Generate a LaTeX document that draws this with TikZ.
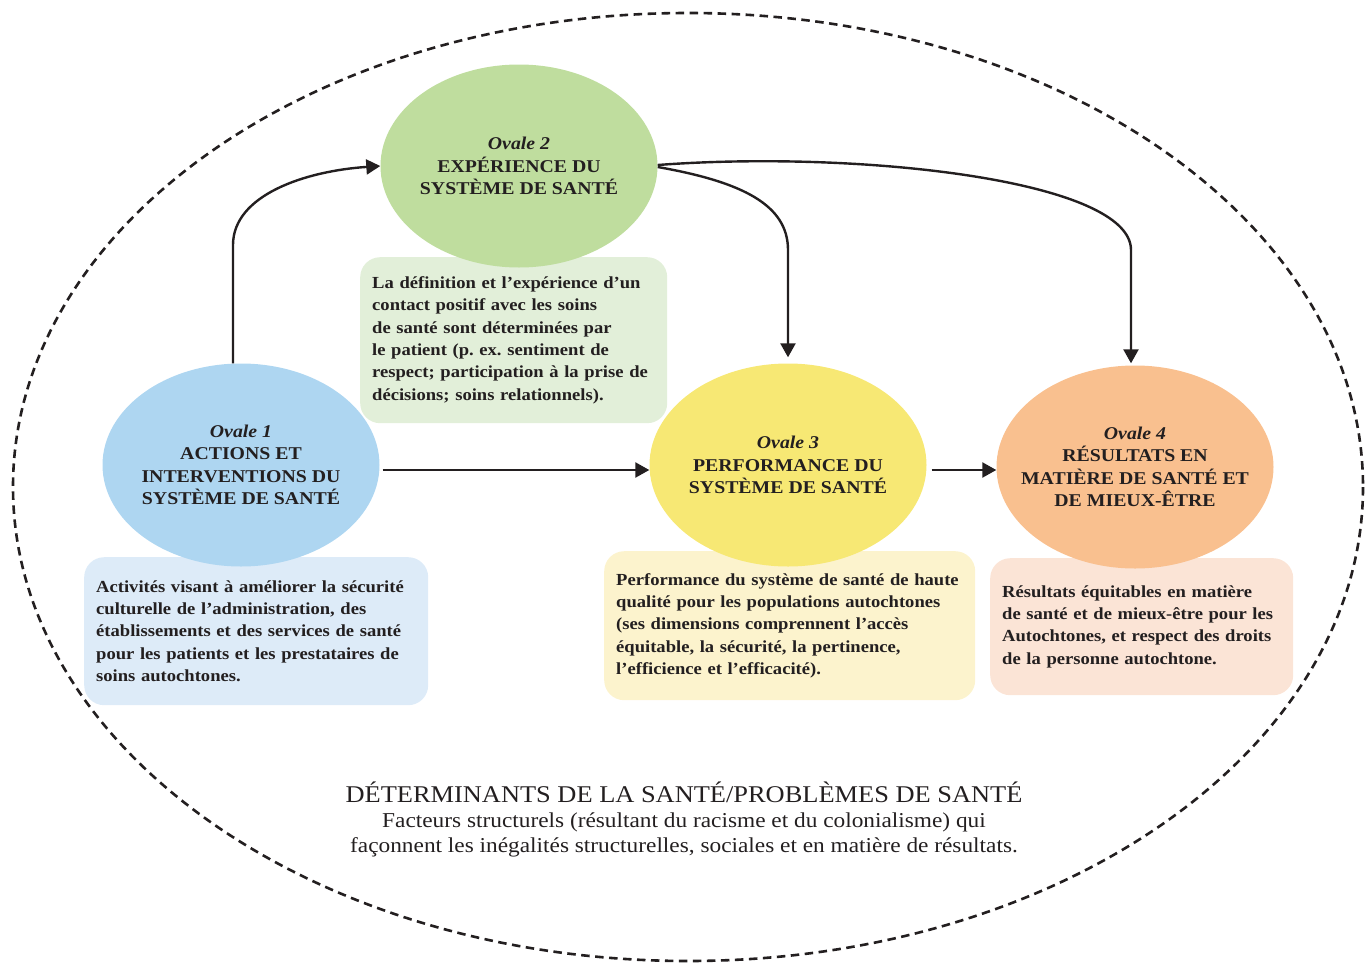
\documentclass[tikz,border=0pt]{standalone}
\usepackage{fontspec}
\setmainfont[FakeStretch=1.1]{Liberation Serif}
\usetikzlibrary{arrows.meta,shapes.geometric,positioning}
\definecolor{ink}{HTML}{231F20}
\definecolor{blueoval}{HTML}{AED6F1}
\definecolor{bluebox}{HTML}{DDEBF8}
\definecolor{greenoval}{HTML}{BFDD9E}
\definecolor{greenbox}{HTML}{E2EFD9}
\definecolor{yellowoval}{HTML}{F7E874}
\definecolor{yellowbox}{HTML}{FCF3CD}
\definecolor{orangeoval}{HTML}{F9C08F}
\definecolor{orangebox}{HTML}{FBE4D6}
\frenchspacing
\begin{document}
\begin{tikzpicture}[x=1pt, y=-1pt, >={Triangle[width=15pt,length=14pt]},
             every node/.style={font=\bfseries\fontsize{16.9}{22.4}\selectfont, text=ink},
             oval/.style={ellipse, minimum width=277pt, minimum height=203pt,
                          inner sep=-30pt, align=center,
                          font=\bfseries\fontsize{18}{22.4}\selectfont},
             note/.style={rectangle, rounded corners=20pt, inner sep=12pt,
                          align=left, anchor=north west},
             flow/.style={->, line width=2.4pt, draw=ink},
             frame/.style={draw=ink, line width=2.6pt, dash pattern=on 8.5pt off 5.5pt}]
\useasboundingbox (0,0) rectangle (1366,964);
%% outer dashed frame
\draw[frame] (688,487) ellipse [x radius=675, y radius=474];

%% description boxes (under the ovals)
\node[note, fill=bluebox, minimum width=344pt, minimum height=148pt, text width=320pt]
  (bx1) at (84,557) {Activités visant à améliorer la sécurité\\
    culturelle de l’administration, des\\
    établissements et des services de santé\\
    pour les patients et les prestataires de\\
    soins autochtones.};
\node[note, fill=greenbox, minimum width=307pt, minimum height=166pt, text width=283pt]
  (bx2) at (360,257) {La définition et l’expérience d’un\\
    contact positif avec les soins\\
    de santé sont déterminées par\\
    le patient (p. ex. sentiment de\\
    respect; participation à la prise de\\
    décisions; soins relationnels).};
\node[note, fill=yellowbox, minimum width=371pt, minimum height=149pt, text width=347pt]
  (bx3) at (604,551) {Performance du système de santé de haute\\
    qualité pour les populations autochtones\\
    (ses dimensions comprennent l’accès\\
    équitable, la sécurité, la pertinence,\\
    l’efficience et l’efficacité).};
\node[note, fill=orangebox, minimum width=303pt, minimum height=137pt, text width=279pt]
  (bx4) at (990,558) {Résultats équitables en matière\\
    de santé et de mieux-être pour les\\
    Autochtones, et respect des droits\\
    de la personne autochtone.};

%% the four ovals
\node[oval, fill=blueoval]   (ov1) at (241,465)
  {{\itshape Ovale 1}\\ACTIONS ET\\INTERVENTIONS DU\\SYSTÈME DE SANTÉ};
\node[oval, fill=greenoval]  (ov2) at (519,166)
  {{\itshape Ovale 2}\\EXPÉRIENCE DU\\SYSTÈME DE SANTÉ};
\node[oval, fill=yellowoval] (ov3) at (788,465)
  {{\itshape Ovale 3}\\PERFORMANCE DU\\SYSTÈME DE SANTÉ};
\node[oval, fill=orangeoval] (ov4) at (1135,467)
  {{\itshape Ovale 4}\\RÉSULTATS EN\\MATIÈRE DE SANTÉ ET\\DE MIEUX-ÊTRE};

%% connectors
\draw[flow] ([xshift=-8pt]ov1.north) -- ([xshift=-8pt]ov1.north |- 0,245)
  .. controls +(0,-50) and +(-75,5) .. (ov2.west);
\draw[flow] ([xshift=3pt,yshift=-5pt]ov1.east) -- ([yshift=-5pt]ov3.west);
\draw[flow] ([xshift=5pt,yshift=-5pt]ov3.east) -- ([yshift=-3pt]ov4.west);
\draw[flow] ([yshift=-1pt]ov2.east) .. controls +(85,15) and +(0,-45)
  .. (ov3.north |- 0,250) -- ([yshift=6pt]ov3.north);
\draw[flow] ([yshift=1pt]ov2.east) .. controls +(200,-15) and +(0,-70)
  .. ([xshift=-4pt]ov4.north |- 0,250) -- ([xshift=-4pt,yshift=2pt]ov4.north);

%% determinants text
\node[font=\fontsize{24}{28}\selectfont] (det) at (684,792)
  {DÉTERMINANTS DE LA SANTÉ/PROBLÈMES DE SANTÉ};
\node[font=\fontsize{21.2}{25}\selectfont, align=center] (fac) at (684,835)
  {Facteurs structurels (résultant du racisme et du colonialisme) qui\\
   façonnent les inégalités structurelles, sociales et en matière de résultats.};
\end{tikzpicture}
\end{document}
